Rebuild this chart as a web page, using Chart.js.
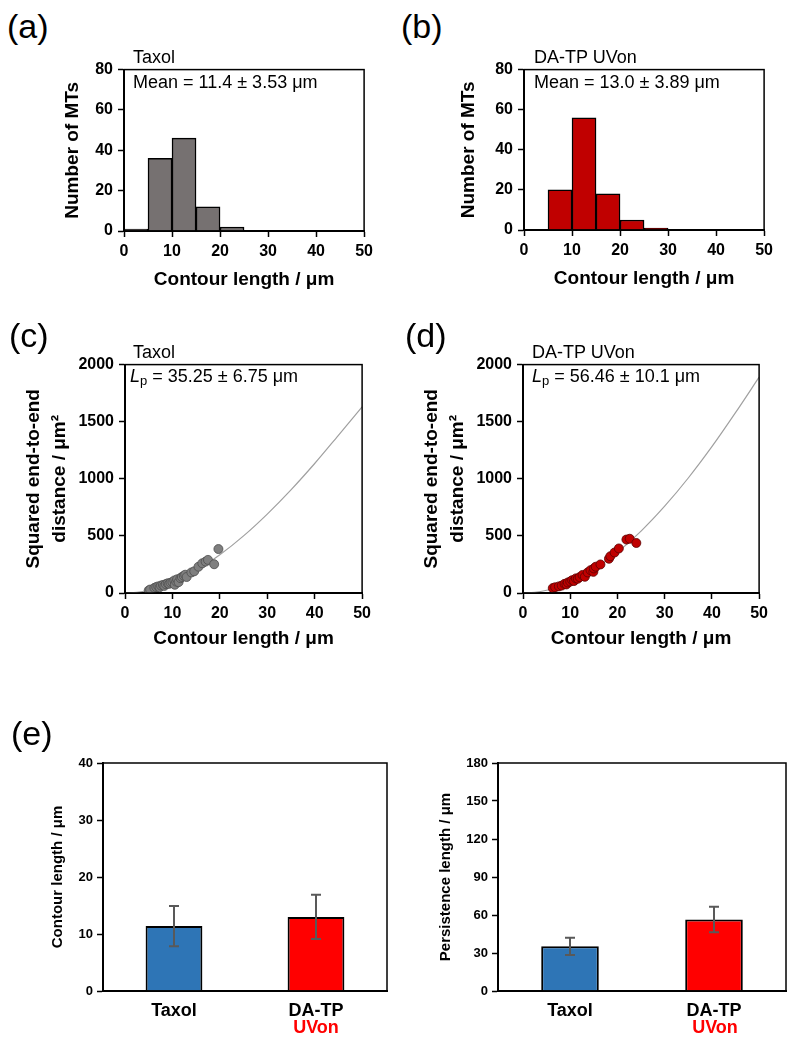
<!DOCTYPE html>
<html>
<head>
<meta charset="utf-8">
<script src="https://cdn.jsdelivr.net/npm/chart.js@4.4.0/dist/chart.umd.min.js"></script>
<style>
body { margin: 0; background: #fff; width: 787px; height: 1041px; position: relative; overflow: hidden;
       font-family: Arial, "Liberation Sans", sans-serif; }
canvas { position: absolute; }
.t { position: absolute; white-space: nowrap; transform: translateY(-50%); line-height: 1; color: #000; }
.lab { font-size: 34px; }
.ann { font-size: 18px; }
.ann sub { font-size: 13px; vertical-align: -3px; }
.uv { font-size: 18px; font-weight: bold; color: #ff0000; transform: translate(-50%, -50%); }
</style>
</head>
<body>
<canvas id="ca"></canvas>
<canvas id="cb"></canvas>
<canvas id="cc"></canvas>
<canvas id="cd"></canvas>
<canvas id="ce1"></canvas>
<canvas id="ce2"></canvas>

<div class="t lab" style="left:7px;top:26px">(a)</div>
<div class="t lab" style="left:401px;top:26px">(b)</div>
<div class="t lab" style="left:9px;top:335px">(c)</div>
<div class="t lab" style="left:405px;top:335px">(d)</div>
<div class="t lab" style="left:11px;top:733px">(e)</div>

<div class="t ann" style="left:133px;top:57px">Taxol</div>
<div class="t ann" style="left:133px;top:82px">Mean = 11.4 ± 3.53 μm</div>
<div class="t ann" style="left:534px;top:57px">DA-TP UVon</div>
<div class="t ann" style="left:534px;top:82px">Mean = 13.0 ± 3.89 μm</div>
<div class="t ann" style="left:133px;top:352px">Taxol</div>
<div class="t ann" style="left:130px;top:377px"><i>L</i><sub>p</sub> = 35.25 ± 6.75 μm</div>
<div class="t ann" style="left:532px;top:352px">DA-TP UVon</div>
<div class="t ann" style="left:532px;top:377px"><i>L</i><sub>p</sub> = 56.46 ± 10.1 μm</div>

<div class="t uv" style="left:316px;top:1027px">UVon</div>
<div class="t uv" style="left:715px;top:1027px">UVon</div>

<script>
// histogram bins (centres of 5 um bins)
const binCenters = [2.5, 7.5, 12.5, 17.5, 22.5, 27.5, 32.5, 37.5, 42.5, 47.5];
const taxolCounts = [1, 36, 46, 12, 2, 0, 0, 0, 0, 0];
const uvonCounts = [0, 20, 56, 18, 5, 1, 0, 0, 0, 0];

// scatter: contour length vs squared end-to-end distance
const taxolPtsX = [5.0, 5.3, 6.2, 6.6, 7.0, 7.3, 7.6, 8.0, 8.3, 8.6, 9.0, 9.3, 9.6, 10.0, 10.4, 10.5, 10.8, 11.0, 11.3, 11.7, 12.0, 12.4, 12.7, 13.0, 14.0, 14.6, 15.5, 16.3, 17.0, 17.5, 18.8, 19.7];
const taxolPtsY = [22, 30, 45, 52, 58, 50, 65, 70, 62, 78, 85, 80, 90, 95, 110, 72, 100, 120, 95, 130, 140, 150, 160, 140, 180, 190, 230, 260, 275, 290, 252, 385];
const uvonPtsX = [6.3, 6.8, 7.6, 8.2, 8.8, 9.2, 9.5, 10.0, 10.4, 10.8, 11.2, 11.6, 12.0, 12.6, 13.1, 13.7, 14.3, 14.9, 15.0, 15.4, 16.4, 18.2, 18.5, 19.4, 20.3, 21.9, 22.6, 24.0];
const uvonPtsY = [43, 50, 58, 65, 80, 75, 92, 100, 112, 105, 128, 125, 139, 158, 142, 180, 200, 185, 215, 230, 250, 300, 322, 355, 390, 468, 475, 438];

// fitted curves
const fitX = [0, 2.5, 5, 7.5, 10, 15, 20, 25, 30, 35, 40, 45, 50];
const taxolFitY = [0, 6, 24, 53, 91, 196, 334, 500, 691, 903, 1134, 1381, 1630];
const uvonFitY = [0, 6, 24, 54, 94, 206, 357, 542, 760, 1007, 1281, 1579, 1890];

// panel (e)
const groups = ['Taxol', 'DA-TP'];
const contourMean = [11.4, 13.0];
const contourSD = [3.53, 3.89];
const persistMean = [35.25, 56.46];
const persistSD = [6.75, 10.1];

Chart.defaults.font.family = 'Arial, "Liberation Sans", sans-serif';
Chart.defaults.color = '#000';

// put a canvas so that its plot area lands on L,T,R,B
function place(id, L, T, R, B, yw, xh, pt, pr) {
    const c = document.getElementById(id);
    c.width = yw + (R - L) + pr;
    c.height = pt + (B - T) + xh;
    c.style.left = (L - yw) + 'px';
    c.style.top = (T - pt) + 'px';
    return c;
}

function linAxis(min, max, step, tickSize, title, titleSize, fit, lh) {
    return {
        type: 'linear', min: min, max: max, offset: false,
        ticks: { stepSize: step, font: { size: tickSize, weight: 'bold' }, padding: 5, maxRotation: 0, autoSkip: false,
                 callback: v => String(v) },
        grid: { display: true, drawOnChartArea: false, drawTicks: true, tickLength: 6, tickWidth: 1.5, tickColor: '#000', offset: false },
        border: { display: true, color: '#000', width: 2 },
        title: { display: !!title, text: title, font: { size: titleSize, weight: 'bold', lineHeight: lh || 1.2 }, padding: 0 },
        afterFit: fit
    };
}

const frame = {
    id: 'frame',
    afterDatasetsDraw(chart) {
        const a = chart.chartArea, ctx = chart.ctx;
        ctx.save();
        ctx.strokeStyle = '#000';
        ctx.lineWidth = 1.5;
        ctx.strokeRect(a.left, a.top, a.right - a.left, a.bottom - a.top);
        ctx.restore();
    }
};

function errBars(means, sds) {
    return {
        id: 'err',
        afterDatasetsDraw(chart) {
            const x = chart.scales.x, y = chart.scales.y, ctx = chart.ctx;
            ctx.save();
            ctx.strokeStyle = '#595959';
            ctx.lineWidth = 2;
            means.forEach((m, i) => {
                const px = x.getPixelForValue(i);
                const top = y.getPixelForValue(m + sds[i]);
                const bot = y.getPixelForValue(m - sds[i]);
                ctx.beginPath();
                ctx.moveTo(px, top); ctx.lineTo(px, bot);
                ctx.moveTo(px - 5, top); ctx.lineTo(px + 5, top);
                ctx.moveTo(px - 5, bot); ctx.lineTo(px + 5, bot);
                ctx.stroke();
            });
            ctx.restore();
        }
    };
}

const baseOpts = (pt, pr) => ({
    responsive: false,
    animation: false,
    layout: { padding: { top: pt, right: pr, left: 0, bottom: 0 } },
    plugins: { legend: { display: false }, tooltip: { enabled: false } }
});

function histogram(id, rect, yw, counts, color) {
    new Chart(place(id, rect[0], rect[1], rect[2], rect[3], yw, 60, 12, 12), {
        type: 'bar',
        data: {
            datasets: [{
                data: binCenters.map((x, i) => ({ x: x, y: counts[i] })),
                backgroundColor: color,
                borderColor: '#000',
                borderWidth: 1.5,
                barPercentage: 1,
                categoryPercentage: 1
            }]
        },
        options: Object.assign(baseOpts(12, 12), {
            scales: {
                x: linAxis(0, 50, 10, 16, 'Contour length / μm', 19, s => { s.height = 60; }),
                y: linAxis(0, 80, 20, 16, 'Number of MTs', 19, s => { s.width = yw; })
            }
        }),
        plugins: [frame]
    });
}

function scatterPanel(id, rect, px, py, fy, fill, edge) {
    new Chart(place(id, rect[0], rect[1], rect[2], rect[3], 104, 57, 12, 12), {
        type: 'scatter',
        data: {
            datasets: [
                {
                    data: px.map((x, i) => ({ x: x, y: py[i] })),
                    backgroundColor: fill,
                    borderColor: edge,
                    borderWidth: 0.8,
                    pointRadius: 4.5
                },
                {
                    data: fitX.map((x, i) => ({ x: x, y: fy[i] })),
                    showLine: true,
                    borderColor: '#a0a0a0',
                    borderWidth: 1.2,
                    pointRadius: 0,
                    cubicInterpolationMode: 'monotone'
                }
            ]
        },
        options: Object.assign(baseOpts(12, 12), {
            scales: {
                x: linAxis(0, 50, 10, 16, 'Contour length / μm', 19, s => { s.height = 57; }),
                y: linAxis(0, 2000, 500, 16, ['Squared end-to-end', 'distance / μm²'], 19, s => { s.width = 104; }, 1.37)
            }
        }),
        plugins: [frame]
    });
}

function summaryPanel(id, rect, yw, means, sds, max, step, title) {
    const yAx = linAxis(0, max, step, 13, title, 15, s => { s.width = yw; });
    yAx.ticks.padding = 4;
    const pr = rect[2] > 780 ? 1 : 12;
    new Chart(place(id, rect[0], rect[1], rect[2], rect[3], yw, 50, 12, pr), {
        type: 'bar',
        data: {
            labels: groups,
            datasets: [{
                data: means,
                backgroundColor: ['#2e75b6', '#ff0000'],
                borderColor: '#000',
                borderWidth: 2,
                barPercentage: 0.4,
                categoryPercentage: 1
            }]
        },
        options: Object.assign(baseOpts(12, pr), {
            scales: {
                x: {
                    type: 'category',
                    grid: { display: false },
                    border: { display: true, color: '#000', width: 2 },
                    ticks: { font: { size: 18, weight: 'bold' }, padding: 1 },
                    afterFit: s => { s.height = 50; }
                },
                y: yAx
            }
        }),
        plugins: [frame, errBars(means, sds)]
    });
}

histogram('ca', [124, 67, 366, 231], 63, taxolCounts, '#767171');
histogram('cb', [524, 67, 766, 230], 67, uvonCounts, '#c00000');
scatterPanel('cc', [125, 362, 364, 593], taxolPtsX, taxolPtsY, taxolFitY, '#7f7f7f', '#4d4d4d');
scatterPanel('cd', [523, 362, 761, 593], uvonPtsX, uvonPtsY, uvonFitY, '#c00000', '#5a0000');
summaryPanel('ce1', [103, 763, 387, 991], 54, contourMean, contourSD, 40, 10, 'Contour length / μm');
summaryPanel('ce2', [498, 763, 786, 991], 61, persistMean, persistSD, 180, 30, 'Persistence length / μm');
</script>
</body>
</html>
